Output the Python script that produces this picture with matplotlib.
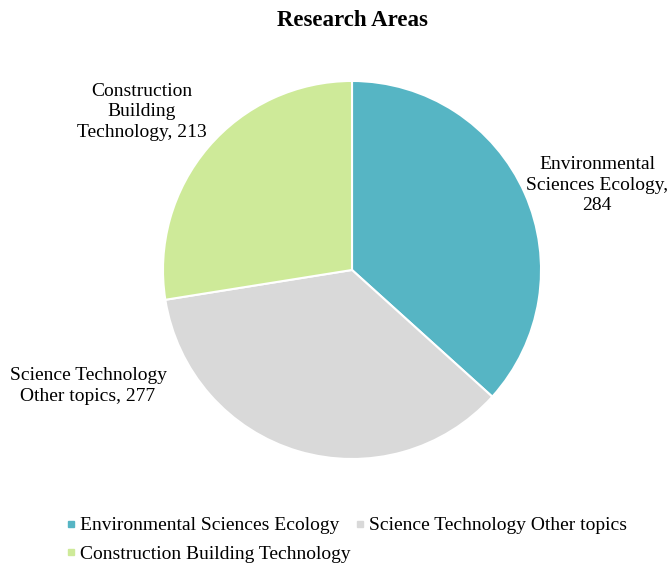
import matplotlib.pyplot as plt
from matplotlib.lines import Line2D

categories = ["Environmental Sciences Ecology", "Science Technology Other topics",
              "Construction Building Technology"]
values = [284, 277, 213]
slice_labels = ["Environmental\nSciences Ecology,\n284",
                "Science Technology\nOther topics, 277",
                "Construction\nBuilding\nTechnology, 213"]
colors = ["#56B5C4", "#D9D9D9", "#CEEA99"]

plt.rcParams["font.family"] = ["Liberation Serif", "DejaVu Serif"]

fig = plt.figure(figsize=(6.71, 5.66), dpi=100)
ax = fig.add_axes([0.5246 - 0.2817, 0.523 - 0.334, 0.5634, 0.668])
wedges, _ = ax.pie(values, colors=colors, startangle=90, counterclock=False,
                   wedgeprops=dict(edgecolor="white", linewidth=1.5))
ax.set_xlim(-1, 1)
ax.set_ylim(-1, 1)
ax.set_aspect("equal")

# label positions (figure pixels from top-left)
label_pos = [(597, 185), (88, 386), (142, 112)]
for txt, (px, py) in zip(slice_labels, label_pos):
    fig.text(px / 671, 1 - py / 566, txt, ha="center", va="center",
             fontsize=14, linespacing=1.27)

fig.text(352 / 671, 1 - 20 / 566, "Research Areas", ha="center", va="center",
         fontsize=16.5, fontweight="bold")

handles = [Line2D([], [], marker="s", linestyle="", markersize=4.5,
                  markerfacecolor=c, markeredgecolor=c) for c in colors]
order = [0, 2, 1]
fig.legend([handles[i] for i in order], [categories[i] for i in order],
           ncol=2, loc="upper left", bbox_to_anchor=(55 / 671, 1 - 507 / 566),
           frameon=False, fontsize=14, handlelength=0.6, handletextpad=0.2,
           columnspacing=0.15, labelspacing=0.55, borderpad=0)

fig.savefig("out.png", dpi=100)
